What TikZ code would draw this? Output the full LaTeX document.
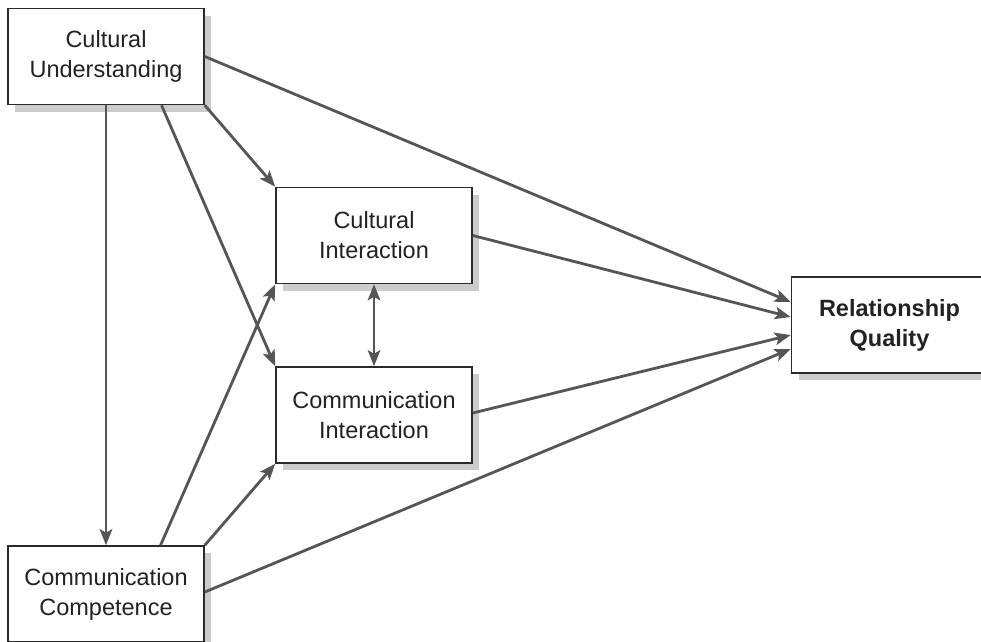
\documentclass[tikz,border=0pt]{standalone}
\usepackage{fontspec}
\setmainfont{Liberation Sans}
\usetikzlibrary{arrows.meta,calc,shadows}

\definecolor{boxline}{HTML}{2A2A2A}
\definecolor{arrowgray}{HTML}{555555}
\definecolor{shadowgray}{HTML}{CCCCCC}
\definecolor{textdark}{HTML}{222222}

\tikzset{
  construct/.style={
    draw=boxline, line width=1.6pt, fill=white,
    minimum width=196pt, minimum height=96pt,
    align=center, inner sep=0pt, text=textdark,
    font=\fontsize{23.5}{30}\selectfont,
    drop shadow={shadow xshift=7pt, shadow yshift=-7pt, fill=shadowgray, opacity=1}
  },
  tip/.tip={Stealth[length=16pt,width=12.5pt,inset=3.5pt]},
  linkarrow/.style={draw=arrowgray, line width=2.8pt, -tip},
  twoway/.style={draw=arrowgray, line width=2.8pt, tip-tip}
}

\begin{document}
\begin{tikzpicture}[x=1pt, y=-1pt]
  \clip (0,0) rectangle (981,641);
  \fill[white] (0,0) rectangle (981,641);

  % constructs
  \node[construct] (cu) at (106,56.5) {Cultural\\Understanding};
  \node[construct] (ci) at (374,235.5) {Cultural\\Interaction};
  \node[construct] (mi) at (374,415) {Communication\\Interaction};
  \node[construct] (cc) at (106,594) {Communication\\Competence};
  \node[construct, font=\fontsize{23.5}{30}\selectfont\bfseries] (rq) at (889.5,325) {Relationship\\Quality};

  % paths from Cultural Understanding
  \draw[linkarrow] (cu.south) -- (cc.north);
  \draw[linkarrow] ($(cu.south west)!0.781!(cu.south east)$) -- (mi.north west);
  \draw[linkarrow] (cu.south east) -- (ci.north west);
  \draw[linkarrow] (cu.east) -- ($(rq.west)+(0,-23)$);

  % paths from the interactions
  \draw[linkarrow] (ci.east) -- ($(rq.west)+(0,-8)$);
  \draw[twoway] (ci.south) -- (mi.north);
  \draw[linkarrow] ($(mi.east)+(0,-2)$) -- ($(rq.west)+(0,10)$);

  % paths from Communication Competence
  \draw[linkarrow] ($(cc.north west)!0.776!(cc.north east)$) -- (ci.south west);
  \draw[linkarrow] (cc.north east) -- (mi.south west);
  \draw[linkarrow] ($(cc.east)+(0,-2)$) -- ($(rq.west)+(0,24)$);
\end{tikzpicture}
\end{document}
